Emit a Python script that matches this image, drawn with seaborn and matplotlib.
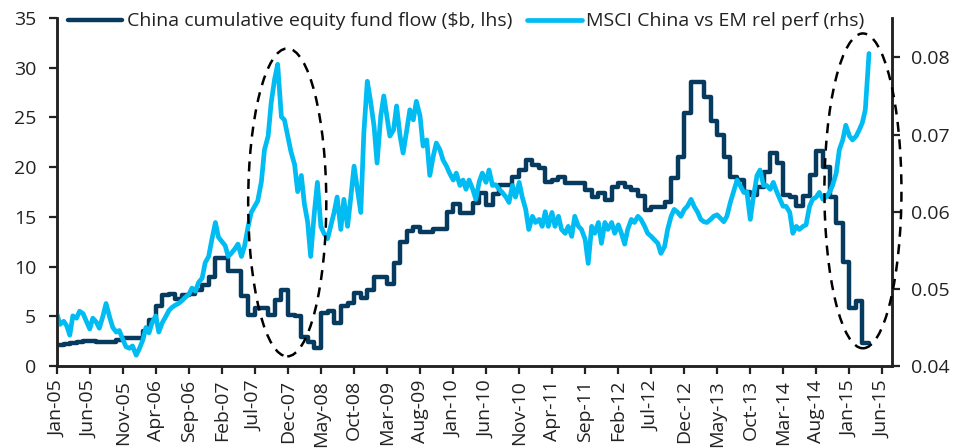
import pandas as pd
import matplotlib
matplotlib.use("Agg")
import matplotlib.pyplot as plt
import matplotlib.dates as mdates
from matplotlib.patches import Ellipse
import seaborn as sns

# China cumulative equity fund flow ($b), month steps from Jan-05
fund_flow = [
    2.1, 2.2, 2.3, 2.45, 2.5, 2.5, 2.45, 2.45, 2.45, 2.6, 2.85, 2.85,
    2.85, 3.5, 4.6, 6.0, 7.1, 7.2, 6.7, 7.1, 7.2, 7.6, 8.1, 9.0,
    10.9, 10.9, 9.6, 9.6, 7.0, 5.1, 5.8, 5.8, 5.1, 6.6, 7.6, 5.1,
    5.0, 2.95, 2.45, 1.85, 5.3, 5.5, 4.35, 6.0, 6.3, 7.3, 6.8, 7.6,
    9.0, 9.0, 8.2, 10.4, 12.5, 13.6, 14.0, 13.5, 13.5, 13.8, 13.8, 15.5,
    16.3, 15.4, 15.4, 16.4, 17.4, 16.2, 17.3, 18.2, 18.2, 19.0, 19.7, 20.7,
    20.2, 19.9, 18.5, 18.7, 19.0, 18.4, 18.4, 18.4, 17.7, 17.0, 17.4, 16.7,
    18.0, 18.4, 18.0, 17.7, 17.1, 15.7, 16.0, 16.0, 16.5, 18.9, 21.0, 25.4,
    28.6, 28.6, 27.1, 24.6, 23.2, 21.0, 19.0, 18.7, 17.5, 17.2, 18.0, 19.5,
    21.4, 20.4, 17.2, 17.0, 16.1, 17.1, 19.2, 21.6, 20.0, 17.0, 14.4, 10.5,
    5.8, 6.5, 2.3, 2.3,
]

# MSCI China vs EM relative performance, twice a month from Jan-05
rel_perf = [
    0.0467, 0.0454, 0.0458, 0.0452, 0.0440, 0.0465, 0.0462, 0.0471, 0.0468, 0.0459, 0.0448, 0.0462,
    0.0457, 0.0449, 0.0465, 0.0481, 0.0463, 0.0450, 0.0444, 0.0446, 0.0434, 0.0425, 0.0423, 0.0426,
    0.0414, 0.0422, 0.0434, 0.0450, 0.0443, 0.0456, 0.0465, 0.0444, 0.0456, 0.0463, 0.0472, 0.0476,
    0.0479, 0.0481, 0.0485, 0.0489, 0.0493, 0.0501, 0.0497, 0.0508, 0.0514, 0.0534, 0.0542, 0.0563,
    0.0586, 0.0567, 0.0561, 0.0556, 0.0542, 0.0546, 0.0552, 0.0558, 0.0542, 0.0555, 0.0581, 0.0599,
    0.0607, 0.0614, 0.0639, 0.0680, 0.0698, 0.0741, 0.0772, 0.0791, 0.0723, 0.0719, 0.0697, 0.0678,
    0.0661, 0.0626, 0.0647, 0.0610, 0.0587, 0.0542, 0.0599, 0.0638, 0.0581, 0.0572, 0.0565, 0.0581,
    0.0599, 0.0619, 0.0577, 0.0616, 0.0581, 0.0616, 0.0659, 0.0632, 0.0599, 0.0702, 0.0769, 0.0745,
    0.0711, 0.0663, 0.0724, 0.0750, 0.0724, 0.0698, 0.0706, 0.0737, 0.0698, 0.0676, 0.0706, 0.0732,
    0.0719, 0.0743, 0.0724, 0.0685, 0.0693, 0.0647, 0.0672, 0.0689, 0.0680, 0.0667, 0.0659, 0.0650,
    0.0641, 0.0650, 0.0634, 0.0641, 0.0629, 0.0641, 0.0629, 0.0616, 0.0639, 0.0650, 0.0638, 0.0654,
    0.0634, 0.0635, 0.0629, 0.0625, 0.0619, 0.0612, 0.0634, 0.0619, 0.0638, 0.0619, 0.0603, 0.0577,
    0.0594, 0.0586, 0.0590, 0.0581, 0.0600, 0.0581, 0.0599, 0.0581, 0.0594, 0.0577, 0.0572, 0.0581,
    0.0568, 0.0594, 0.0581, 0.0577, 0.0564, 0.0533, 0.0581, 0.0572, 0.0586, 0.0559, 0.0586, 0.0577,
    0.0586, 0.0572, 0.0583, 0.0572, 0.0558, 0.0577, 0.0590, 0.0586, 0.0594, 0.0590, 0.0581, 0.0572,
    0.0568, 0.0564, 0.0559, 0.0546, 0.0555, 0.0577, 0.0594, 0.0603, 0.0599, 0.0594, 0.0603, 0.0607,
    0.0616, 0.0607, 0.0599, 0.0590, 0.0587, 0.0586, 0.0590, 0.0594, 0.0596, 0.0592, 0.0587, 0.0594,
    0.0612, 0.0625, 0.0641, 0.0634, 0.0625, 0.0626, 0.0590, 0.0619, 0.0647, 0.0654, 0.0634, 0.0634,
    0.0629, 0.0638, 0.0625, 0.0616, 0.0607, 0.0607, 0.0599, 0.0572, 0.0581, 0.0577, 0.0581, 0.0583,
    0.0607, 0.0616, 0.0619, 0.0625, 0.0616, 0.0619, 0.0625, 0.0634, 0.0650, 0.0680, 0.0693, 0.0712,
    0.0698, 0.0693, 0.0698, 0.0706, 0.0715, 0.0732, 0.0805,
]

flow_label = "China cumulative equity fund flow ($b, lhs)"
perf_label = "MSCI China vs EM rel perf (rhs)"
navy = "#063b5f"
sky = "#00bcf2"
ink = "#222222"
fs = 14

flow_df = pd.DataFrame({"date": pd.date_range("2005-01-01", periods=len(fund_flow), freq="MS"),
                        "flow": fund_flow})
perf_df = pd.DataFrame({"date": pd.date_range("2005-01-01", periods=len(rel_perf), freq="SMS"),
                        "perf": rel_perf})

sns.set_style("ticks")
plt.rcParams["font.family"] = ["Open Sans", "DejaVu Sans"]

fig = plt.figure(figsize=(9.66, 4.48), dpi=100)
ax = fig.add_axes([0.059, 0.183, 0.8644, 0.7768])
ax2 = ax.twinx()

sns.lineplot(data=flow_df, x="date", y="flow", ax=ax, color=navy, lw=3.2,
             drawstyle="steps-post", label=flow_label, legend=False)
sns.lineplot(data=perf_df, x="date", y="perf", ax=ax2, color=sky, lw=3.4,
             label=perf_label, legend=False)

ax.set_xlim(pd.Timestamp("2005-01-01"), pd.Timestamp("2015-07-16"))
ax.set_ylim(0, 35)
ax2.set_ylim(0.04, 0.0851)
ax.set_yticks(range(0, 36, 5))
ax2.set_yticks([0.04, 0.05, 0.06, 0.07, 0.08])
ax2.set_yticklabels(["0.04", "0.05", "0.06", "0.07", "0.08"])
ax.set_xticks(pd.date_range("2005-01-01", "2015-06-01", freq="5MS"))
ax.xaxis.set_major_formatter(mdates.DateFormatter("%b-%y"))
ax.set_xlabel("")
ax.set_ylabel("")
ax2.set_ylabel("")

for a in (ax, ax2):
    a.spines["top"].set_visible(False)
    for s in ("left", "right", "bottom"):
        a.spines[s].set_color(ink)
        a.spines[s].set_linewidth(1.8)
ax.tick_params(axis="x", direction="out", length=6, width=1.6, color=ink,
               labelsize=fs, labelcolor=ink, rotation=90, pad=4)
ax.tick_params(axis="y", direction="out", length=6, width=1.6, color=ink,
               labelsize=fs, labelcolor=ink, pad=9)
ax2.tick_params(axis="y", direction="out", length=6, width=1.6, color=ink,
                labelsize=fs, labelcolor=ink, pad=8)

# dashed ellipses highlighting the two divergences (rhs units, days wide)
for center, w, h in [(("2007-11-28", 0.0612), 360, 0.0399),
                     (("2015-03-04", 0.0627), 355, 0.0408)]:
    cx = mdates.date2num(pd.Timestamp(center[0]))
    ax2.add_patch(Ellipse((cx, center[1]), w, h, fill=False, ls=(0, (4, 3)),
                          lw=1.8, ec="black", zorder=5, clip_on=False))

handles = ax.get_lines()[:1] + ax2.get_lines()[:1]
ax2.legend(handles, [flow_label, perf_label], ncol=2, frameon=False,
           loc="center left", bbox_to_anchor=(0.013, 0.99), borderaxespad=0,
           borderpad=0, handlelength=2.8, handletextpad=0.25, columnspacing=0.75,
           fontsize=fs, labelcolor=ink)

plt.savefig("out.png", dpi=100)
